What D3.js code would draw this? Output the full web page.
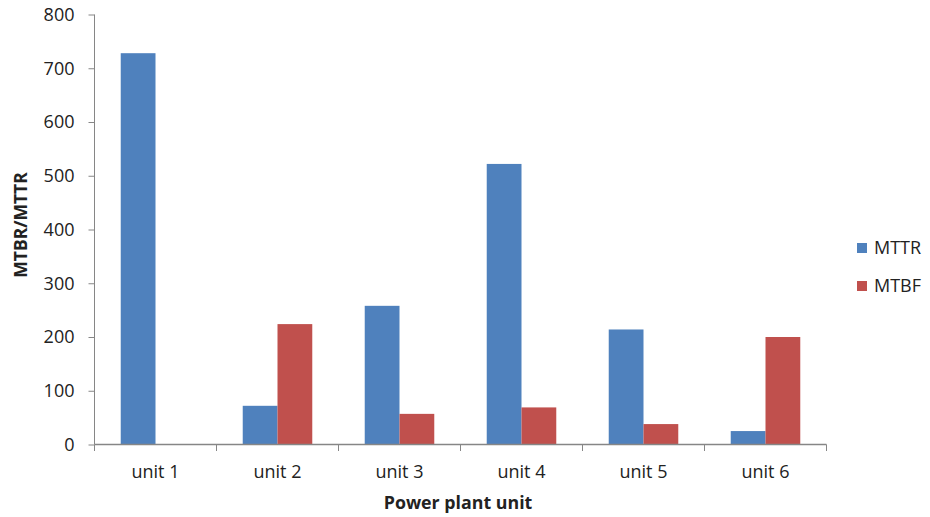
<!DOCTYPE html>
<html><head><meta charset="utf-8">
<script src="https://cdn.jsdelivr.net/npm/d3@7"></script>
<style>body{margin:0;background:#fff}svg{display:block}text{font-family:"Open Sans",sans-serif;fill:#222}</style>
</head><body>
<script>
const categories = ["unit 1","unit 2","unit 3","unit 4","unit 5","unit 6"];
const mttr = [728, 72, 258, 522, 214, 25];
const mtbf = [0, 224, 57, 69, 38, 200];
const seriesNames = ["MTTR","MTBF"];
const colors = ["#4F81BD","#C0504D"];
const yTicks = [0,100,200,300,400,500,600,700,800];

const W=930,H=517;
const svg=d3.select("body").append("svg").attr("width",W).attr("height",H);
const x0=d3.scaleBand().domain(categories).range([94.5,826.5]).paddingInner(0.43).paddingOuter(0.215);
const x1=d3.scaleBand().domain(seriesNames).range([0,x0.bandwidth()]);
const y=d3.scaleLinear().domain([0,800]).range([444.5,14.5]);

const data=categories.map((c,i)=>({cat:c,vals:[mttr[i],mtbf[i]]}));
const g=svg.append("g");
g.selectAll("g.grp").data(data).join("g").attr("transform",d=>`translate(${x0(d.cat)},0)`)
 .selectAll("rect").data(d=>d.vals.map((v,j)=>({k:seriesNames[j],v,j}))).join("rect")
 .attr("x",d=>x1(d.k)).attr("width",x1.bandwidth()).attr("y",d=>y(d.v)).attr("height",d=>y(0)-y(d.v))
 .attr("fill",d=>colors[d.j]);

// y axis
const ya=svg.append("g").attr("transform","translate(94.5,0)").call(d3.axisLeft(y).tickValues(yTicks).tickSize(6).tickPadding(14));
ya.select(".domain").attr("stroke","#868686").attr("d","M0,14.5V444.5");
ya.selectAll(".tick line").attr("stroke","#868686");
ya.selectAll(".tick text").attr("font-size",18).attr("font-family","'Open Sans',sans-serif").attr("fill","#222");

// x axis
const xTickPos=d3.range(categories.length+1).map(i=>94.5+i*(732/6));
const xa=svg.append("g");
xa.append("line").attr("x1",94.5).attr("x2",826.5).attr("y1",444.5).attr("y2",444.5).attr("stroke","#868686").attr("stroke-width",1.5);
xa.selectAll("line.t").data(xTickPos).join("line").attr("class","t").attr("x1",d=>d).attr("x2",d=>d).attr("y1",444.5).attr("y2",451).attr("stroke","#868686");
xa.selectAll("text").data(categories).join("text").attr("x",d=>x0(d)+x0.bandwidth()/2).attr("y",478).attr("text-anchor","middle").attr("font-size",18).text(d=>d);

svg.append("text").attr("x",458).attr("y",509).attr("text-anchor","middle").attr("font-size",17.8).attr("font-weight","bold").text("Power plant unit");
svg.append("text").attr("transform","translate(27,225) rotate(-90)").attr("text-anchor","middle").attr("font-size",17.5).attr("font-weight","bold").text("MTBR/MTTR");

// legend
const lg=svg.append("g").selectAll("g").data(seriesNames).join("g").attr("transform",(d,i)=>`translate(857,${243+i*38})`);
lg.append("rect").attr("width",10).attr("height",10).attr("fill",(d,i)=>colors[i]);
lg.append("text").attr("x",17).attr("y",5).attr("dy","0.35em").attr("font-size",18).text(d=>d);
</script>
</body></html>
